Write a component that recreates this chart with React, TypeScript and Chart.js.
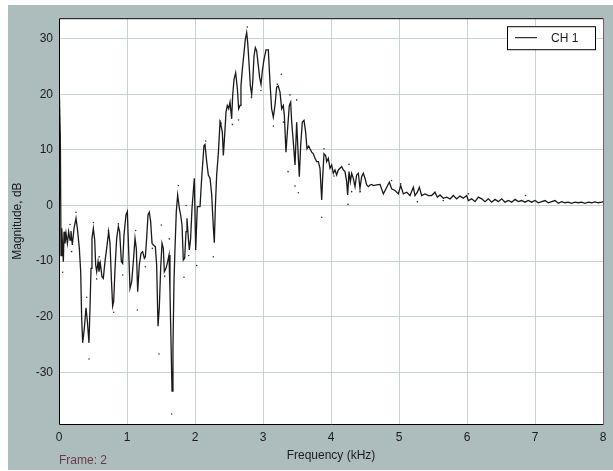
import React, { useEffect, useRef } from "react";
import { Chart, registerables } from "chart.js";

Chart.register(...registerables);

// Frequency axis (kHz) of the CH 1 trace
const freqKHz = [
  0, 0.02, 0.03, 0.04, 0.064, 0.074, 0.088, 0.103, 0.123, 0.142,
  0.162, 0.176, 0.196, 0.221, 0.25, 0.27, 0.299, 0.319, 0.333, 0.348,
  0.373, 0.397, 0.417, 0.441, 0.456, 0.471, 0.485, 0.505, 0.525, 0.539,
  0.554, 0.574, 0.588, 0.608, 0.632, 0.652, 0.676, 0.701, 0.73, 0.75,
  0.77, 0.789, 0.804, 0.824, 0.848, 0.873, 0.892, 0.917, 0.936, 0.956,
  0.985, 1.005, 1.025, 1.044, 1.069, 1.093, 1.118, 1.137, 1.157, 1.181,
  1.206, 1.23, 1.255, 1.27, 1.289, 1.309, 1.328, 1.348, 1.368, 1.387,
  1.417, 1.436, 1.456, 1.475, 1.495, 1.515, 1.534, 1.549, 1.574, 1.598,
  1.618, 1.632, 1.652, 1.662, 1.676, 1.691, 1.706, 1.725, 1.745, 1.77,
  1.789, 1.809, 1.828, 1.848, 1.868, 1.882, 1.902, 1.917, 1.936, 1.956,
  1.975, 1.99, 2.01, 2.034, 2.074, 2.098, 2.132, 2.147, 2.172, 2.196,
  2.221, 2.245, 2.27, 2.284, 2.299, 2.319, 2.343, 2.368, 2.382, 2.402,
  2.417, 2.436, 2.456, 2.475, 2.495, 2.515, 2.539, 2.554, 2.574, 2.598,
  2.623, 2.642, 2.662, 2.676, 2.696, 2.721, 2.74, 2.76, 2.775, 2.794,
  2.814, 2.833, 2.848, 2.868, 2.887, 2.907, 2.926, 2.951, 2.971, 2.99,
  3.015, 3.044, 3.078, 3.103, 3.127, 3.152, 3.176, 3.201, 3.225, 3.25,
  3.275, 3.299, 3.314, 3.338, 3.358, 3.387, 3.407, 3.422, 3.446, 3.471,
  3.495, 3.52, 3.534, 3.554, 3.578, 3.603, 3.627, 3.647, 3.672, 3.691,
  3.716, 3.74, 3.765, 3.789, 3.814, 3.838, 3.863, 3.877, 3.897, 3.922,
  3.936, 3.961, 3.985, 4.01, 4.034, 4.059, 4.083, 4.108, 4.132, 4.157,
  4.181, 4.206, 4.23, 4.245, 4.265, 4.284, 4.304, 4.328, 4.353, 4.377,
  4.402, 4.426, 4.451, 4.475, 4.5, 4.525, 4.549, 4.574, 4.598, 4.623,
  4.672, 4.721, 4.77, 4.82, 4.858, 4.892, 4.941, 4.99, 5.025, 5.064,
  5.113, 5.162, 5.211, 5.235, 5.27, 5.299, 5.333, 5.382, 5.431, 5.48,
  5.529, 5.564, 5.603, 5.652, 5.701, 5.75, 5.799, 5.848, 5.897, 5.946,
  5.995, 6.02, 6.069, 6.118, 6.167, 6.216, 6.265, 6.314, 6.363, 6.412,
  6.461, 6.51, 6.559, 6.608, 6.657, 6.706, 6.755, 6.804, 6.853, 6.902,
  6.951, 7.0, 7.049, 7.098, 7.147, 7.196, 7.245, 7.294, 7.343, 7.392,
  7.441, 7.49, 7.539, 7.588, 7.637, 7.686, 7.735, 7.784, 7.833, 7.882,
  7.931, 7.98, 8.0,
];

// Magnitude (dB) of the CH 1 trace
const magnitudeDb = [
  23, 12, -9, -4.1, -10.1, -4.7, -6.8, -5.0, -6.8, -4.7,
  -6.2, -4.6, -7.1, -4.1, -2.3, -4.1, -7.7, -11.9, -20.2, -24.7,
  -22.0, -18.4, -20.8, -24.7, -18.4, -11.3, -5.9, -4.1, -6.2, -10.7,
  -11.9, -10.1, -11.9, -10.4, -12.8, -13.1, -10.1, -7.7, -4.7, -6.8,
  -13.1, -18.1, -17.3, -11.3, -5.9, -3.8, -4.7, -10.1, -10.4, -5.3,
  -1.7, -1.1, -8.3, -14.9, -13.7, -10.1, -5.9, -7.7, -15.5, -10.7,
  -8.6, -8.3, -9.5, -9.2, -5.9, -1.7, -1.2, -2.9, -6.8, -7.1,
  -7.4, -10.7, -21.7, -18.4, -11.3, -6.8, -7.7, -11.9, -11.3, -10.1,
  -8.9, -15.5, -27.4, -33.4, -25.6, -13.7, -7.7, -1.1, 1.9, -0.5,
  -1.7, -3.5, -9.8, -9.5, -4.7, -2.3, -5.9, -8.0, -5.9, -0.5,
  2.5, 4.9, -8.0, -0.2, -0.2, 4.9, 10.8, 11.0, 7.9, 5.5,
  4.9, 2.0, -4.0, -6.7, -0.3, 5.6, 9.3, 15.0, 14.4, 13.2,
  9.0, 12.6, 16.8, 18.0, 17.4, 18.6, 15.6, 19.8, 22.7, 23.9,
  21.0, 17.4, 18.0, 21.5, 24.5, 27.5, 29.9, 31.1, 29.3, 25.7,
  21.5, 20.0, 22.0, 26.9, 28.4, 27.8, 25.7, 23.0, 21.8, 24.2,
  26.3, 28.0, 28.0, 22.1, 17.4, 15.9, 18.0, 21.3, 21.5, 20.4,
  17.4, 18.0, 16.2, 9.6, 13.2, 18.0, 18.6, 15.0, 11.4, 7.3,
  15.0, 8.5, 5.2, 10.8, 15.0, 15.3, 13.2, 10.2, 10.7, 10.2,
  9.6, 9.3, 8.5, 7.9, 7.9, 6.7, 1.0, 4.9, 9.3, 9.0,
  7.9, 8.5, 6.7, 7.3, 5.8, 6.4, 5.5, 6.4, 6.7, 7.0,
  6.4, 6.1, 4.3, 1.9, 6.1, 4.3, 5.8, 4.9, 3.4, 5.5,
  5.8, 3.1, 5.2, 5.8, 4.9, 3.7, 3.4, 3.7, 3.8, 3.6,
  3.7, 3.8, 2.1, 3.3, 4.2, 3.0, 2.7, 2.1, 3.6, 2.1,
  2.4, 1.8, 3.3, 1.8, 2.4, 3.3, 1.8, 2.1, 1.8, 1.8,
  2.4, 1.5, 1.9, 1.3, 1.5, 1.2, 1.8, 1.2, 1.7, 1.3,
  1.8, 0.9, 1.2, 0.7, 1.5, 1.2, 0.7, 1.2, 0.6, 1.1,
  0.7, 1.2, 0.6, 0.9, 0.6, 1.1, 0.7, 0.9, 0.6, 0.9,
  0.6, 0.9, 0.5, 0.7, 0.9, 0.5, 0.7, 0.9, 0.4, 0.7,
  0.5, 0.6, 0.4, 0.6, 0.5, 0.6, 0.4, 0.6, 0.5, 0.65,
  0.5, 0.6, 0.7,
];

// Isolated sample dots scattered around the trace
const dotFreqKHz = [
  0.054, 0.162, 0.186, 0.25, 0.407, 0.441, 0.505, 0.554, 0.593, 0.725,
  0.804, 0.873, 0.936, 1.127, 1.152, 1.27, 1.373, 1.47, 1.505, 1.554,
  1.623, 1.657, 1.755, 1.838, 1.868, 1.907, 2.025, 2.27, 2.157, 2.37,
  2.55, 2.64, 2.77, 2.83, 2.97, 3.152, 3.21, 3.27, 3.3, 3.368,
  3.397, 3.471, 3.495, 3.52, 3.863, 3.897, 4.044, 4.25, 4.265, 4.304,
  4.43, 4.89, 5.025, 5.27, 5.65, 6.02, 6.86,
];
const dotDb = [
  -12, -3.4, -8.3, -1.2, -16.5, -27.6, -3.05, -13.2, -9.2, -4.55,
  -19.2, -3.3, -12.5, -4.5, -18.8, -11.0, -7.7, -26.7, -3.5, -12.7,
  -6.0, -37.5, 3.6, -12.9, 0, -9, -10.8, -9.2, 11.6, 15.2,
  14.6, 15.4, 32.1, 19.5, 20.7, 14.3, 21.8, 23.6, 15, 6.1,
  19.9, 3.5, 19.0, 2.3, -2.1, 10.2, 5.3, 0.2, 7.4, 2.5,
  2.5, 4.5, 3.9, 0.7, 0.9, 2.1, 1.8,
];

const xTicks = [0, 1, 2, 3, 4, 5, 6, 7, 8];
const yTicks = [-30, -20, -10, 0, 10, 20, 30];
const legendLabel = "CH 1";
const xTitle = "Frequency (kHz)";
const yTitle = "Magnitude, dB";
const frameLabel = "Frame: 2";

const FONT = "'Liberation Sans', Arial, sans-serif";
const TEXT = "#1c1c1c";

export default function App() {
  const ref = useRef<HTMLCanvasElement>(null);

  useEffect(() => {
    if (!ref.current) return;
    const n = Math.min(freqKHz.length, magnitudeDb.length);
    const line = [] as { x: number; y: number }[];
    for (let i = 0; i < n; i++) line.push({ x: freqKHz[i], y: magnitudeDb[i] });
    const m = Math.min(dotFreqKHz.length, dotDb.length);
    const dots = [] as { x: number; y: number }[];
    for (let i = 0; i < m; i++) dots.push({ x: dotFreqKHz[i], y: dotDb[i] });

    const decor = {
      id: "decor",
      beforeDraw(chart: any) {
        const { ctx, chartArea: a } = chart;
        ctx.save();
        ctx.fillStyle = "#ffffff";
        ctx.fillRect(a.left, a.top, a.right - a.left, a.bottom - a.top);
        ctx.restore();
      },
      afterDatasetsDraw(chart: any) {
        const { ctx, chartArea: a } = chart;
        ctx.save();
        // plot frame
        ctx.lineWidth = 1;
        ctx.strokeStyle = "#000";
        ctx.beginPath();
        ctx.moveTo(a.left + 0.5, a.bottom + 0.5);
        ctx.lineTo(a.left + 0.5, a.top + 0.5);
        ctx.lineTo(a.right + 0.5, a.top + 0.5);
        ctx.moveTo(a.left + 0.5, a.bottom + 0.5);
        ctx.lineTo(a.right + 0.5, a.bottom + 0.5);
        ctx.stroke();
        ctx.strokeStyle = "#7b5c66";
        ctx.beginPath();
        ctx.moveTo(a.right + 0.5, a.top + 1);
        ctx.lineTo(a.right + 0.5, a.bottom + 1);
        ctx.stroke();

        // legend box
        const bw = 88, bh = 23;
        const bx = a.right - 8 - bw;
        const by = a.top + 8;
        ctx.fillStyle = "#fff";
        ctx.fillRect(bx, by, bw, bh);
        ctx.strokeStyle = "#000";
        ctx.strokeRect(bx + 0.5, by + 0.5, bw, bh);
        ctx.beginPath();
        ctx.moveTo(bx + 8, by + 11.5);
        ctx.lineTo(bx + 30, by + 11.5);
        ctx.stroke();
        ctx.fillStyle = TEXT;
        ctx.font = "12px " + FONT;
        ctx.textBaseline = "middle";
        ctx.textAlign = "left";
        ctx.fillText(legendLabel, bx + 44, by + 12);

        // axis titles
        ctx.textAlign = "center";
        ctx.fillText(xTitle, (a.left + a.right) / 2, 451);
        ctx.save();
        ctx.translate(10, (a.top + a.bottom) / 2);
        ctx.rotate(-Math.PI / 2);
        ctx.fillText(yTitle, 0, 0);
        ctx.restore();

        ctx.textAlign = "left";
        ctx.fillStyle = "#6b3a4a";
        ctx.fillText(frameLabel, a.left, 456);
        ctx.restore();
      },
    };

    const tickFont = { family: FONT, size: 12 };
    const chart = new Chart(ref.current, {
      type: "line",
      data: {
        datasets: [
          {
            label: legendLabel,
            data: line,
            borderColor: "#1a1a1a",
            borderWidth: 1.3,
            pointRadius: 0,
            tension: 0,
            fill: false,
          },
          {
            label: "samples",
            data: dots,
            showLine: false,
            pointRadius: 0.8,
            pointBorderWidth: 0,
            pointBackgroundColor: "#333",
            backgroundColor: "#333",
          } as any,
        ],
      },
      options: {
        animation: false,
        responsive: false,
        maintainAspectRatio: false,
        layout: { padding: { top: 10, right: 10, left: 0, bottom: 0 } },
        plugins: { legend: { display: false }, tooltip: { enabled: false } },
        scales: {
          x: {
            type: "linear",
            min: 0,
            max: 8,
            afterBuildTicks: (s: any) => {
              s.ticks = xTicks.map((v) => ({ value: v }));
            },
            afterFit: (s: any) => {
              s.height = 46;
            },
            grid: { color: "#c5d3d3", drawTicks: false },
            border: { display: false },
            ticks: { color: TEXT, font: tickFont, padding: 6, maxRotation: 0, autoSkip: false },
          },
          y: {
            type: "linear",
            min: -39.3,
            max: 33.7,
            afterBuildTicks: (s: any) => {
              s.ticks = yTicks.map((v) => ({ value: v }));
            },
            afterFit: (s: any) => {
              s.width = 51;
            },
            grid: { color: "#c5d3d3", drawTicks: false },
            border: { display: false },
            ticks: { color: TEXT, font: tickFont, padding: 6, autoSkip: false },
          },
        },
      },
      plugins: [decor],
    } as any);
    return () => chart.destroy();
  }, []);

  return (
    <div
      style={{
        position: "absolute",
        left: 8,
        top: 5,
        width: 605,
        height: 465,
        background: "#adbdbd",
      }}
    >
      <canvas ref={ref} width={605} height={465} style={{ display: "block" }} />
    </div>
  );
}
